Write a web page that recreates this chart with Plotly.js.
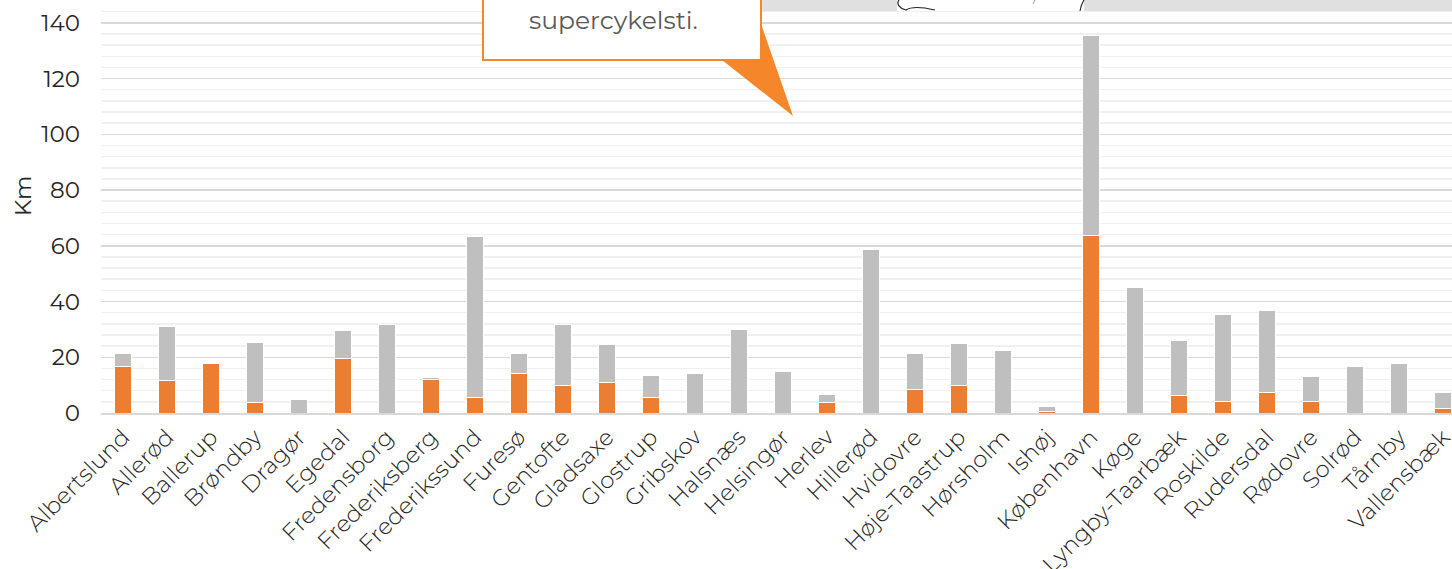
<!DOCTYPE html>
<html>
<head>
<meta charset="utf-8">
<script src="https://cdn.plot.ly/plotly-3.0.1.min.js"></script>
<style>
html,body{margin:0;padding:0;background:#fff;}
#chart{width:1452px;height:569px;}
</style>
</head>
<body>
<div id="chart"></div>
<script>
// Kommuner
const categories = ["Albertslund","Allerød","Ballerup","Brøndby","Dragør","Egedal","Fredensborg","Frederiksberg","Frederikssund","Furesø","Gentofte","Gladsaxe","Glostrup","Gribskov","Halsnæs","Helsingør","Herlev","Hillerød","Hvidovre","Høje-Taastrup","Hørsholm","Ishøj","København","Køge","Lyngby-Taarbæk","Roskilde","Rudersdal","Rødovre","Solrød","Tårnby","Vallensbæk"];
// Km supercykelsti (orange, bottom)
const orangeKm = [16.6,11.5,17.9,3.7,0,19.4,0,12.2,5.7,14.1,10.0,10.8,5.4,0,0,0,3.7,0,8.4,10.0,0,0.7,63.7,0,6.2,4.3,7.4,4.3,0,0,1.6];
// Km total (top of grey)
const totalKm = [21.4,31.2,18.0,25.2,4.8,29.7,31.7,12.8,63.5,21.3,31.8,24.6,13.6,14.0,29.8,14.8,6.6,58.7,21.5,24.8,22.3,2.2,135.3,45.2,26.0,35.2,36.9,13.0,16.6,17.9,7.2];
const greyKm = totalKm.map((t,i)=>+(t-orangeKm[i]).toFixed(2));
const yTicks = [0,20,40,60,80,100,120,140];

const W=1452, H=569, L=101, R=0, T=0, B=156;
const pw=W-L-R, ph=H-T-B;
const px = x => (x-L)/pw;
const py = y => (H-B-y)/ph;

const font = "Montserrat, Lato, 'Open Sans', sans-serif";

const traces = [
  {type:'bar', name:'Supercykelsti', x:categories, y:orangeKm,
   marker:{color:'#ED7D31', line:{color:'#ffffff', width:1}}},
  {type:'bar', name:'Øvrige', x:categories, y:greyKm,
   marker:{color:'#BFBFBF', line:{color:'#ffffff', width:1}}}
];

const shapes = [
  // grey map image strip at top
  {type:'rect', xref:'paper', yref:'paper', x0:px(762), x1:px(1452), y0:py(11), y1:py(-2), fillcolor:'#E0E0E0', line:{width:0}, layer:'above'},
  {type:'rect', xref:'paper', yref:'paper', x0:px(897), x1:px(1084), y0:py(11), y1:py(-2), fillcolor:'#FFFFFF', line:{width:0}, layer:'above'},
  {type:'path', xref:'paper', yref:'paper', layer:'above',
   path:`M ${px(899)} ${py(0)} C ${px(896)} ${py(4)}, ${px(900)} ${py(9)}, ${px(906)} ${py(10)} C ${px(912)} ${py(6)}, ${px(922)} ${py(7)}, ${px(935)} ${py(10)}`,
   line:{color:'#222', width:1.2}},
  {type:'path', xref:'paper', yref:'paper', layer:'above',
   path:`M ${px(1084)} ${py(0)} C ${px(1082)} ${py(3)}, ${px(1081)} ${py(6)}, ${px(1080)} ${py(11)}`,
   line:{color:'#222', width:1.2}},
  {type:'path', xref:'paper', yref:'paper', layer:'above',
   path:`M ${px(1035)} ${py(0)} L ${px(1033)} ${py(4)}`,
   line:{color:'#999', width:1}},
  // callout pointer
  {type:'path', xref:'paper', yref:'paper', layer:'above',
   path:`M ${px(722)} ${py(60)} L ${px(793)} ${py(116)} L ${px(752)} ${py(-2)} Z`,
   fillcolor:'#F5862A', line:{width:0}},
  // callout box
  {type:'rect', xref:'paper', yref:'paper', layer:'above',
   x0:px(483), x1:px(761), y0:py(60), y1:py(-5),
   fillcolor:'#FFFFFF', line:{color:'#F5862A', width:2}}
];

const annotations = [
  {xref:'paper', yref:'paper', x:px(613), y:py(20), text:'supercykelsti.', showarrow:false,
   font:{family:font, size:25, color:'#595959', weight:400}, xanchor:'center', yanchor:'middle'},
  {xref:'paper', yref:'paper', x:px(23), y:py(196), text:'Km', showarrow:false, textangle:-90,
   font:{family:font, size:23, color:'#262626', weight:400}, xanchor:'center', yanchor:'middle'}
];

const layout = {
  width:W, height:H,
  margin:{l:L, r:R, t:T, b:B, pad:0},
  paper_bgcolor:'#fff', plot_bgcolor:'#fff',
  barmode:'stack', bargap:0.61,
  showlegend:false,
  font:{family:font, color:'#262626'},
  xaxis:{type:'category', range:[-0.5, 30.2], tickangle:-45,
    tickfont:{family:font, size:23, color:'#262626', weight:300},
    showgrid:false, zeroline:false, showline:true, linecolor:'#D9D9D9', linewidth:1.5,
    ticks:'', automargin:false},
  yaxis:{range:[0, 148.2], tickvals:yTicks, ticktext:yTicks.map(String),
    tickfont:{family:font, size:23, color:'#262626', weight:400},
    ticklabelstandoff:20,
    showgrid:true, gridcolor:'#D9D9D9', gridwidth:1.5,
    minor:{dtick:4, tick0:0, showgrid:true, gridcolor:'#F0F0F0', gridwidth:1.5, ticks:''},
    zeroline:false, showline:false, ticks:'', ticklen:0, automargin:false},
  shapes:shapes, annotations:annotations
};

Plotly.newPlot('chart', traces, layout, {staticPlot:true, displayModeBar:false});
</script>
</body>
</html>
